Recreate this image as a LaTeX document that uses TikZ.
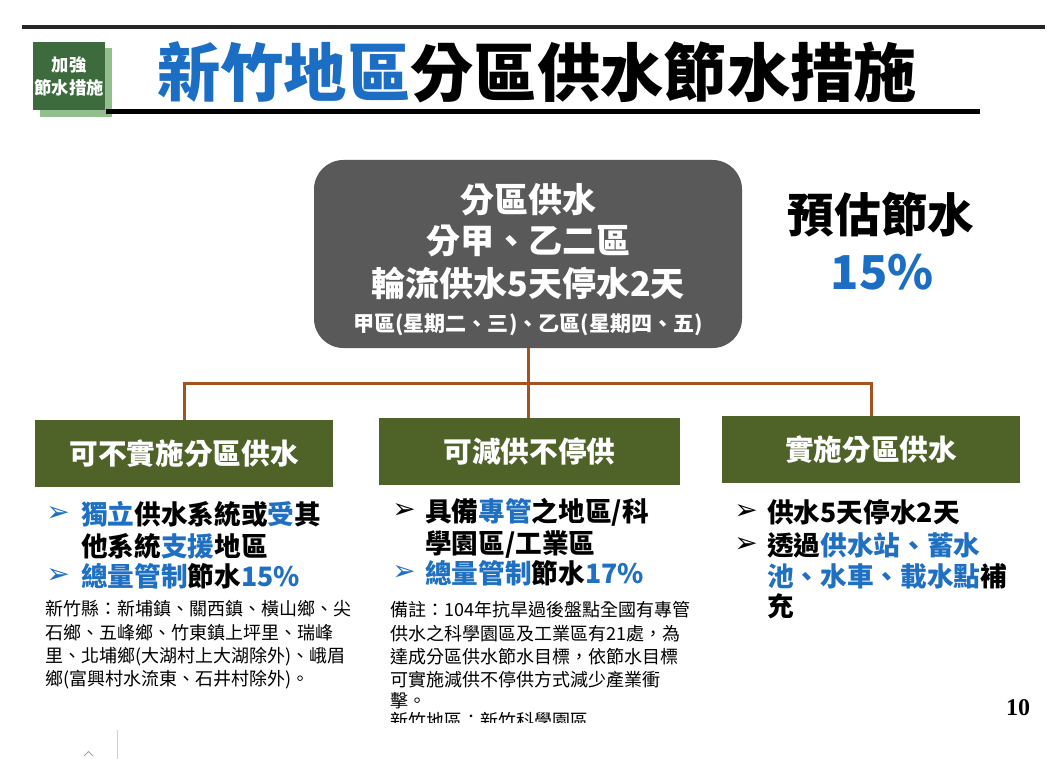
\documentclass[tikz,border=0pt]{standalone}
\usepackage{fontspec}
\setmainfont{Noto Sans CJK TC}
\newfontfamily\arrowfont{DejaVu Sans}
\newfontfamily\pagefont{Liberation Serif}
\definecolor{titleblue}{HTML}{1C6EC4}
\definecolor{txtblue}{HTML}{1F6FC2}
\definecolor{badgegreen}{HTML}{3D6B3D}
\definecolor{badgeshadow}{HTML}{93BE8E}
\definecolor{hdrgreen}{HTML}{4F6228}
\definecolor{boxgray}{HTML}{595959}
\definecolor{connbrown}{HTML}{A4521F}
\tikzset{
  bul/.style={inner sep=0pt, anchor=base west, font=\fontsize{20}{24}\selectfont\bfseries},
  note/.style={inner sep=0pt, anchor=base west, font=\fontsize{13.5}{16}\selectfont},
  arr/.style={inner sep=0pt, anchor=west, font=\arrowfont\fontsize{21}{24}\selectfont},
  hdr/.style={fill=hdrgreen, text=white, inner sep=0pt, minimum height=50.25pt,
    font=\fontsize{21.5}{24}\selectfont\bfseries},
  conn/.style={draw=connbrown, line width=2.25pt},
  hubtxt/.style={inner sep=0pt, text=white, font=\fontsize{25.5}{28}\selectfont\bfseries}
}
\newcommand{\bl}[1]{{\color{txtblue}#1}}
\begin{document}
\begin{tikzpicture}[x=0.75pt,y=-0.75pt]
\useasboundingbox (0,0) rectangle (1048,759);
\fill[white] (0,0) rectangle (1048,759);

% top rule
\draw[black!85, line width=2.3pt] (22,27) -- (1045,27);

% badge
\fill[badgeshadow] (40,48) rectangle (112,117);
\node[fill=badgegreen, text=white, inner sep=0pt, minimum width=54pt, minimum height=51pt,
  anchor=north west, align=center, font=\fontsize{13}{17.5}\selectfont\bfseries] (badge) at (33,42)
  {加強\\節水措施};

% title
\node[inner sep=0pt, anchor=west, font=\fontsize{47.5}{50}\selectfont\bfseries] (title) at (157,72)
  {{\color{titleblue}新竹地區}分區供水節水措施};
\draw[black, line width=4pt] (106,111.5) -- (980,111.5);

% hub
\node[fill=boxgray, rounded corners=22pt, minimum width=321pt, minimum height=141pt, inner sep=0pt]
  (hub) at (528,254) {};
\node[hubtxt] (h1) at (528,200) {分區供水};
\node[hubtxt] (h2) at (528,241) {分甲、乙二區};
\node[hubtxt] (h3) at (528,283) {輪流供水5天停水2天};
\node[hubtxt, font=\fontsize{15.8}{18}\selectfont\bfseries] (h4) at (528,325)
  {甲區(星期二、三)、乙區(星期四、五)};

% estimate
\node[inner sep=0pt, font=\fontsize{35}{38}\selectfont\bfseries] (est) at (881,215) {預估節水};
\node[inner sep=0pt, text=titleblue, font=\fontsize{35}{38}\selectfont\bfseries] (estp) at (882,272) {15\%};

% headers
\node[hdr, minimum width=223.5pt] (g1) at (184,453.5) {可不實施分區供水};
\node[hdr, minimum width=225.75pt] (g2) at (529.5,451.5) {可減供不停供};
\node[hdr, minimum width=223.5pt] (g3) at (871,449.5) {實施分區供水};

% connectors
\coordinate (bar) at (528,383);
\draw[conn] (hub.south) -- (hub.south |- g2.north);
\draw[conn] (g1.north) |- (bar) -| (g3.north);

% column 1
\node[arr, text=txtblue] (a11) at (46,514) {➢};
\node[bul] (c11) at (81,524) {\bl{獨立}供水系統或\bl{受}其};
\node[bul] (c12) at (81,556) {他系統\bl{支援}地區};
\node[arr, text=txtblue] (a12) at (46,576) {➢};
\node[bul] (c13) at (81,586) {\bl{總量管制}節水\bl{15\%}};
\node[note] (n11) at (45,615) {新竹縣：新埔鎮、關西鎮、橫山鄉、尖};
\node[note] (n12) at (45,639) {石鄉、五峰鄉、竹東鎮上坪里、瑞峰};
\node[note] (n13) at (45,662) {里、北埔鄉(大湖村上大湖除外)、峨眉};
\node[note] (n14) at (45,685) {鄉(富興村水流東、石井村除外)。};

% column 2
\node[arr] (a21) at (392,511) {➢};
\node[bul] (c21) at (425,521) {具備\bl{專管}之地區/科};
\node[bul] (c22) at (425,553) {學園區/工業區};
\node[arr, text=txtblue] (a22) at (392,573) {➢};
\node[bul] (c23) at (425,583) {\bl{總量管制}節水\bl{17\%}};
\node[note] (n21) at (390,616) {備註：104年抗旱過後盤點全國有專管};
\node[note] (n22) at (390,640) {供水之科學園區及工業區有21處，為};
\node[note] (n23) at (390,663) {達成分區供水節水目標，依節水目標};
\node[note] (n24) at (390,686) {可實施減供不停供方式減少產業衝};
\node[note] (n25) at (390,707) {擊。};
\begin{scope}
\clip (380,690) rectangle (720,722);
\node[note] (n26) at (390,727) {新竹地區：新竹科學園區.};
\end{scope}

% column 3
\node[arr] (a31) at (734,512) {➢};
\node[bul] (c31) at (767,522) {供水5天停水2天};
\node[arr] (a32) at (734,545) {➢};
\node[bul] (c32) at (767,555) {透過\bl{供水站、蓄水}};
\node[bul] (c33) at (767,586) {\bl{池、水車、載水點}補};
\node[bul] (c34) at (767,616) {充};

% page number
\node[inner sep=0pt, font=\pagefont\fontsize{18}{20}\selectfont\bfseries] (pg) at (1018,708) {10};

% bottom artifacts
\draw[gray!70, line width=0.6pt] (84,756) -- (88.5,751.5) -- (93,756);
\draw[gray!35, line width=0.6pt] (117,730) -- (117,759);
\end{tikzpicture}
\end{document}
